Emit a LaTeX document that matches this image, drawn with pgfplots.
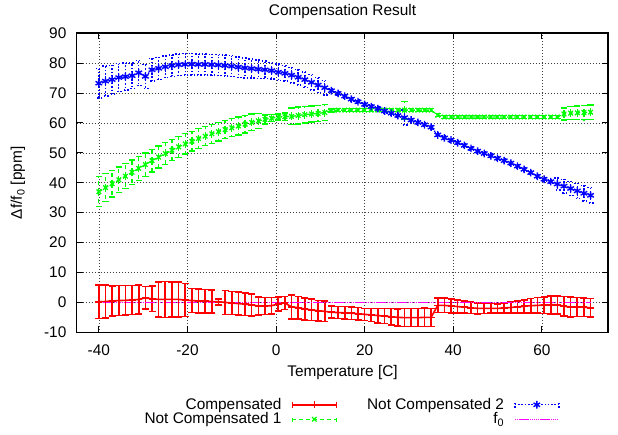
\documentclass[border=0pt]{standalone}
\usepackage{pgfplots}
\pgfplotsset{compat=1.18}
\usepackage{pgfplotstable}
\usepackage{fontspec}
\setmainfont{Liberation Sans}
\newcommand\gpfont{\fontsize{15.4bp}{17bp}\selectfont}

\definecolor{gpred}{RGB}{255,0,0}
\definecolor{gpgreen}{RGB}{0,255,0}
\definecolor{gpblue}{RGB}{0,0,255}
\definecolor{gpmag}{RGB}{255,0,255}

\pgfplotsset{
  errlegend/.style={legend image code/.code={
      \draw[##1] (0bp,0bp) -- (44bp,0bp);
      \draw[##1] (0bp,-3bp) -- (0bp,3bp) (44bp,-3bp) -- (44bp,3bp);
      \draw[##1] plot coordinates {(22bp,0bp)};
  }},
  linelegend/.style={legend image code/.code={
      \draw[gpmag, line width=1.5bp, dash pattern=on 1.5bp off 0.6bp] (0bp,0bp) -- (44bp,0bp);
  }},
}

% x, compensated (r, err), not compensated 1 (g, err), not compensated 2 (b, err)
\pgfplotstableread{
x r re g ge b be
-40 0.2 5.6 37.0 5.0 73.3 5.0
-38.5 0.3 5.5 38.4 4.6 74.0 5.0
-37 0.5 5.0 39.7 4.4 74.5 4.8
-35.5 0.6 5.0 41.0 4.3 75.2 4.6
-34 0.7 5.0 42.2 4.2 75.5 4.5
-32.5 0.8 4.9 43.5 4.1 75.8 4.3
-31 1.0 4.8 44.8 4.0 76.8 4.2
-29.5 1.5 3.8 46.1 3.9 75.6 4.0
-28 1.2 4.2 47.4 3.8 77.8 3.8
-26.5 1.0 5.8 48.6 3.7 78.3 3.7
-25 1.0 6.0 49.8 3.6 78.8 3.6
-23.5 1.0 5.9 50.9 3.5 79.2 3.6
-22 1.0 5.8 52.0 3.5 79.5 3.6
-20.5 0.8 5.5 53.0 3.4 79.6 3.6
-19 0.6 4.0 53.9 3.3 79.7 3.6
-17.5 0.5 4.0 54.8 3.3 79.6 3.5
-16 0.4 3.9 55.6 3.2 79.6 3.5
-14.5 0.3 3.8 56.4 3.2 79.5 3.5
-13 0.2 1.0 57.1 3.1 79.4 3.5
-11.5 0.0 4.0 57.8 3.1 79.2 3.5
-10 -0.2 3.9 58.4 3.0 79.0 3.5
-8.5 -0.4 3.9 59.0 3.0 78.7 3.4
-7 -0.6 3.8 59.6 2.9 78.4 3.3
-5.5 -0.8 3.7 60.2 2.8 78.2 3.2
-4 -1.2 3.0 60.7 2.5 78.0 3.1
-2.5 -1.2 2.9 61.2 1.5 77.8 3.0
-1 -1.1 2.8 61.6 1.2 77.5 2.8
0.5 -0.5 2.4 62.0 1.0 77.0 2.7
2 -0.2 2.2 62.1 1.2 76.6 2.6
3.5 -1.5 4.0 62.2 2.8 76.0 2.6
5 -1.8 3.8 62.5 2.8 75.3 2.6
6.5 -2.2 3.7 62.8 2.8 74.5 2.6
8 -2.5 3.6 63.0 2.7 73.6 2.6
9.5 -2.8 3.5 63.2 2.7 72.7 2.5
11 -3.0 3.4 63.5 2.6 71.8 2.4
12.5 -3.3 2.0 64.2 0.5 70.8 0.6
14 -3.4 2.0 64.3 0.5 69.9 0.6
15.5 -3.5 2.1 64.3 0.5 69.0 0.6
17 -3.6 2.1 64.3 0.5 68.0 0.6
18.5 -3.8 2.1 64.3 0.5 67.1 0.6
20 -4.0 2.0 64.3 0.5 66.2 0.6
21.5 -4.2 2.2 64.3 0.5 65.5 0.6
23 -4.4 2.4 64.3 0.5 64.8 0.6
24.5 -4.6 2.5 64.3 0.5 64.0 0.6
26 -4.8 2.7 64.3 0.5 63.3 0.6
27.5 -5.0 2.8 64.3 0.5 62.5 0.6
29 -5.1 3.0 64.3 3.0 61.8 2.5
30.5 -5.1 3.0 64.3 0.5 61.0 0.6
32 -5.1 3.0 64.3 0.5 60.2 0.6
33.5 -5.0 3.1 64.3 0.5 59.4 0.6
35 -5.0 3.0 64.3 0.5 58.6 0.6
36.5 -1.0 2.4 62.6 0.5 56.0 0.6
38 -1.0 2.4 62.0 0.5 55.0 0.6
39.5 -1.2 2.3 62.0 0.5 54.3 0.6
41 -1.4 2.2 62.0 0.5 53.4 0.6
42.5 -1.6 2.0 62.0 0.5 52.5 0.6
44 -1.8 1.9 62.0 0.5 51.5 0.6
45.5 -2.0 1.8 62.0 0.5 50.6 0.6
47 -2.0 1.7 62.0 0.5 49.8 0.6
48.5 -2.0 1.6 62.0 0.5 49.0 0.6
50 -2.0 1.5 62.0 0.5 48.2 0.6
51.5 -1.9 1.6 62.0 0.5 47.4 0.6
53 -1.7 1.8 62.0 0.5 46.6 0.6
54.5 -1.5 2.0 62.0 0.5 45.6 0.6
56 -1.3 2.2 62.0 0.5 44.5 0.6
57.5 -1.1 2.4 62.0 0.5 43.4 0.6
59 -1.0 2.6 62.0 0.5 42.2 0.6
60.5 -0.9 2.8 62.0 0.5 41.2 0.6
62 -0.8 3.0 62.0 0.5 40.4 0.6
63.5 -0.8 3.0 62.0 0.5 39.6 2.0
65 -1.3 3.3 63.0 2.0 38.9 2.3
66.5 -1.5 3.3 63.3 2.2 38.1 2.4
68 -1.5 3.2 63.4 2.3 37.3 2.5
69.5 -1.6 3.1 63.5 2.4 36.5 2.6
71 -1.8 3.1 63.6 2.4 35.8 2.6
}\meas

\begin{document}
\gpfont
\begin{tikzpicture}
\useasboundingbox (-76.7bp,-102.7bp) rectangle (541.3bp,332.3bp);
\begin{axis}[
    at={(0bp,0bp)}, anchor=south west,
    scale only axis, width=531.6bp, height=299bp,
    xmin=-45, xmax=75, ymin=-10, ymax=90,
    xtick={-40,-20,0,20,40,60},
    ytick={-10,0,...,90},
    tick align=inside, major tick length=6bp,
    every tick/.style={black, line width=1bp},
    axis line style={black, line width=1.6bp},
    grid=major,
    major grid style={black!75, line width=0.6bp, dash pattern=on 0.8bp off 2.2bp},
    tick label style={font=\gpfont},
    /pgf/number format/assume math mode=true,
    xticklabel style={yshift=-7.5bp},
    yticklabel style={xshift=-5bp},
    title={Compensation Result},
    title style={font=\gpfont, at={(axis description cs:0.5,1)}, anchor=base, yshift=12.3bp},
    xlabel={Temperature [C]},
    xlabel style={font=\gpfont, at={(axis description cs:0.5,0)}, anchor=base, yshift=-44.4bp},
    ylabel={Δf/f\textsubscript{0} [ppm]},
    ylabel style={font=\gpfont, at={(axis description cs:-0.1104,0.5)}, anchor=center},
    legend columns=2, transpose legend,
    legend plot pos=right, legend cell align=right,
    legend style={draw=none, fill=none, font=\gpfont, inner sep=0pt,
        at={(axis description cs:0.518,-0.2666)}, anchor=center,
        row sep=1bp, column sep=10bp,
        /tikz/every even column/.append style={column sep=30bp},
        nodes={inner sep=0bp}},
]
\addplot[gpred, line width=1.6bp, mark=+, mark size=3.5bp, mark options={solid}, errlegend,
    error bars/.cd, y dir=both, y explicit, error mark=-,
    error bar style={gpred, solid, line width=1.6bp},
    error mark options={rotate=90, gpred, solid, mark size=3.5bp, line width=1.6bp}]
    table[x=x, y=r, y error=re] {\meas};
\addlegendentry{Compensated}
\addplot[gpgreen, line width=1.3bp, dash pattern=on 4bp off 3bp, mark=x, mark size=3.2bp, mark options={solid}, errlegend,
    error bars/.cd, y dir=both, y explicit, error mark=-,
    error bar style={gpgreen, line width=1.3bp, dash pattern=on 4bp off 3bp},
    error mark options={rotate=90, gpgreen, solid, mark size=3.2bp, line width=1.3bp}]
    table[x=x, y=g, y error=ge] {\meas};
\addlegendentry{Not Compensated 1}
\addplot[gpblue, line width=1.4bp, dash pattern=on 1.5bp off 1.8bp, mark=asterisk, mark size=3.8bp, mark options={solid}, errlegend,
    error bars/.cd, y dir=both, y explicit, error mark=-,
    error bar style={gpblue, line width=1.4bp, dash pattern=on 1.5bp off 1.8bp},
    error mark options={rotate=90, gpblue, dash pattern=on 1.5bp off 1.8bp, mark size=3.2bp, line width=1.4bp}]
    table[x=x, y=b, y error=be] {\meas};
\addlegendentry{Not Compensated 2}
\addplot[gpmag, line width=1.5bp, dash pattern=on 1.5bp off 0.6bp, linelegend]
    coordinates {(-40,0) (71,0)};
\addlegendentry{f\textsubscript{0}}
\end{axis}
\end{tikzpicture}
\end{document}
